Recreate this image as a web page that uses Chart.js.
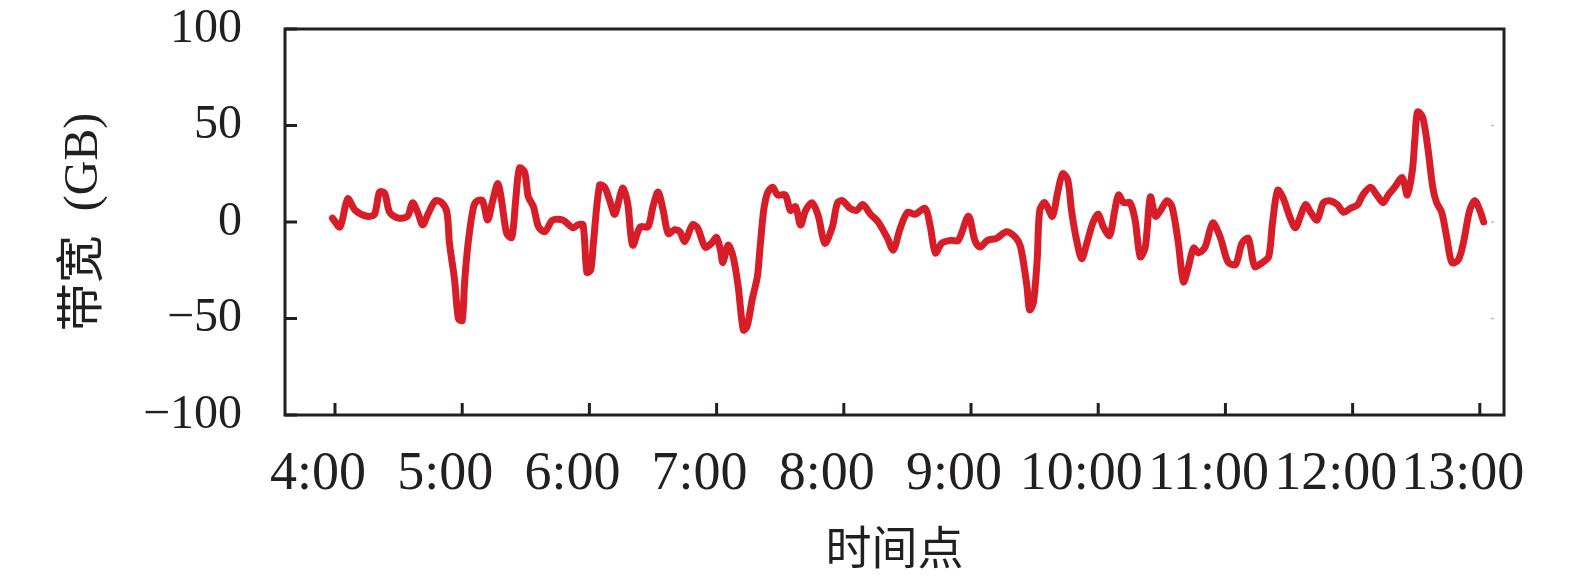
<!DOCTYPE html>
<html><head><meta charset="utf-8">
<script src="https://cdn.jsdelivr.net/npm/chart.js@4"></script>
<style>html,body{margin:0;padding:0;background:#fff}#wrap{width:1575px;height:581px;position:relative}</style>
</head><body><div id="wrap"><canvas id="c" width="1575" height="581"></canvas></div>
<script>
// time of day in decimal hours
const timeHours = [3.98,4.04,4.10,4.16,4.25,4.31,4.35,4.39,4.43,4.50,4.57,4.61,4.65,4.69,4.73,4.79,4.84,4.88,4.90,4.94,4.97,5.00,5.02,5.05,5.09,5.12,5.16,5.20,5.24,5.28,5.31,5.35,5.39,5.42,5.45,5.49,5.52,5.56,5.60,5.65,5.71,5.79,5.87,5.91,5.95,5.98,6.01,6.03,6.08,6.12,6.16,6.20,6.26,6.30,6.34,6.40,6.46,6.50,6.54,6.58,6.62,6.67,6.71,6.75,6.81,6.85,6.91,6.96,7.00,7.03,7.05,7.09,7.13,7.17,7.21,7.24,7.28,7.32,7.34,7.37,7.40,7.44,7.48,7.54,7.58,7.62,7.66,7.70,7.75,7.80,7.85,7.91,7.95,7.99,8.05,8.10,8.15,8.21,8.27,8.34,8.39,8.44,8.50,8.56,8.64,8.68,8.72,8.77,8.84,8.90,8.98,9.03,9.07,9.13,9.20,9.28,9.35,9.39,9.44,9.46,9.49,9.52,9.54,9.58,9.64,9.68,9.72,9.76,9.79,9.83,9.87,9.91,9.96,10.00,10.04,10.09,10.13,10.16,10.20,10.25,10.29,10.33,10.37,10.41,10.45,10.49,10.54,10.58,10.63,10.67,10.71,10.75,10.79,10.84,10.90,10.96,11.02,11.08,11.13,11.18,11.23,11.29,11.34,11.37,11.41,11.45,11.51,11.55,11.59,11.63,11.67,11.72,11.77,11.82,11.88,11.93,11.98,12.04,12.08,12.14,12.19,12.24,12.28,12.33,12.39,12.43,12.47,12.49,12.51,12.55,12.59,12.63,12.66,12.70,12.74,12.78,12.83,12.87,12.92,12.96,13.00,13.03];
// bandwidth (GB)
const bandwidthGB = [2,-2.5,12,6,3,4,15.5,15,5,2,3,10,5,-1.5,4,11,10,5,-11,-30,-50,-51,-30,-9,8,11,11,1,11,20,11,-6,-8,11,28,26,13,8,-2.5,-5,1,1,-3,-1.5,-1.5,-26,-25,-12,19,18,11,4,17.5,10,-12,-2.5,-2.5,8,15.5,6,-6,-4,-5,-10,-1.5,-3,-13,-11,-8,-14.5,-21,-12,-18,-33.5,-56,-54,-40,-28.5,-14.5,6,15,18,14,14,6,8,-1.5,6,10,3,-11,-2.5,10,11,7,6,9,4,0,-8,-14.5,-4,5,4,7,-2.5,-16,-11,-9.5,-9.5,3,-9.5,-13,-9.5,-8.5,-5,-8,-13,-33.5,-45.5,-42,-19.7,6,10,3,15,25,22,6,-9.5,-19,-11,0,4,-2.5,-7,6,14,10,10,1,-18,-13,13,3,6,11,8,-11,-31,-23,-13.5,-16,-13,-0.5,-8,-20.7,-22,-11,-8.5,-23,-21,-18,-0.5,16.5,13,2,-3,3,9,5,1,10,11,9,5,7,9,14,18,14,10,14,18,23,14,27,43.5,57,54.4,39,18,10,5,-8,-21,-19.7,-11,6,11,6,0];
const xTickHours = [4,5,6,7,8,9,10,11,12,13];
const xTickLabels = ['4:00','5:00','6:00','7:00','8:00','9:00','10:00','11:00','12:00','13:00'];
const yTickValues = [-100,-50,0,50,100];
const xTitle = '时间点';
const yTitle = '带宽\u2002(GB)';

const INK = '#231f20';
const points = timeHours.map((t, i) => ({x: t, y: bandwidthGB[i]}));

const framePlugin = {
  id: 'frame',
  afterDraw(chart) {
    const {ctx, chartArea: a, scales} = chart;
    ctx.save();
    ctx.strokeStyle = INK;
    ctx.lineWidth = 3;
    ctx.lineJoin = 'miter';
    ctx.strokeRect(a.left, a.top, a.right - a.left, a.bottom - a.top);
    ctx.beginPath();
    xTickHours.forEach(v => {
      const px = scales.x.getPixelForValue(v);
      ctx.moveTo(px, a.bottom);
      ctx.lineTo(px, a.bottom - 12);
    });
    yTickValues.forEach(v => {
      const py = scales.y.getPixelForValue(v);
      ctx.moveTo(a.left, py);
      ctx.lineTo(a.left + 12, py);
    });
    ctx.stroke();
    ctx.strokeStyle = '#bbbbbb';
    ctx.lineWidth = 1.5;
    ctx.beginPath();
    [-50, 0, 50].forEach(v => {
      const py = scales.y.getPixelForValue(v);
      ctx.moveTo(a.right - 13, py);
      ctx.lineTo(a.right - 10, py);
    });
    ctx.stroke();
    ctx.restore();
  }
};

new Chart(document.getElementById('c'), {
  type: 'line',
  data: {
    datasets: [{
      data: points,
      borderColor: '#d71e28',
      borderWidth: 7,
      pointRadius: 0,
      tension: 0.3,
      borderJoinStyle: 'round',
      borderCapStyle: 'round',
      fill: false
    }]
  },
  options: {
    responsive: false,
    devicePixelRatio: 1,
    animation: false,
    layout: {padding: {top: 29, right: 71, left: 0, bottom: 0}},
    plugins: {legend: {display: false}, tooltip: {enabled: false}},
    scales: {
      x: {
        type: 'linear',
        min: 3.607,
        max: 13.19,
        afterBuildTicks: s => { s.ticks = xTickHours.map(v => ({value: v})); },
        afterFit: s => { s.height = 166; s.paddingLeft = 0; s.paddingRight = 0; },
        grid: {display: false, drawTicks: false},
        border: {display: false},
        ticks: {
          autoSkip: false, maxRotation: 0, padding: 27, labelOffset: -17, color: INK,
          font: {family: '"Liberation Serif", serif', size: 54},
          callback: v => xTickLabels[xTickHours.indexOf(v)]
        },
        title: {
          display: true, text: xTitle, color: INK,
          font: {family: '"Noto Sans CJK SC", sans-serif', size: 46},
          padding: {top: 0, bottom: 7}
        }
      },
      y: {
        min: -100, max: 100,
        afterBuildTicks: s => { s.ticks = yTickValues.map(v => ({value: v})); },
        afterFit: s => { s.width = 285; s.paddingTop = 0; s.paddingBottom = 0; },
        grid: {display: false, drawTicks: false},
        border: {display: false},
        ticks: {
          padding: 43, color: INK,
          font: {family: '"Liberation Serif", serif', size: 48},
          callback: v => (v < 0 ? '\u2212' + Math.abs(v) : String(v))
        },
        title: {
          display: true, text: yTitle, color: INK,
          font: {family: '"Liberation Serif", "Noto Sans CJK SC", serif', size: 48},
          padding: {top: 56, bottom: 0}
        }
      }
    }
  },
  plugins: [framePlugin]
});
</script>
</body></html>
